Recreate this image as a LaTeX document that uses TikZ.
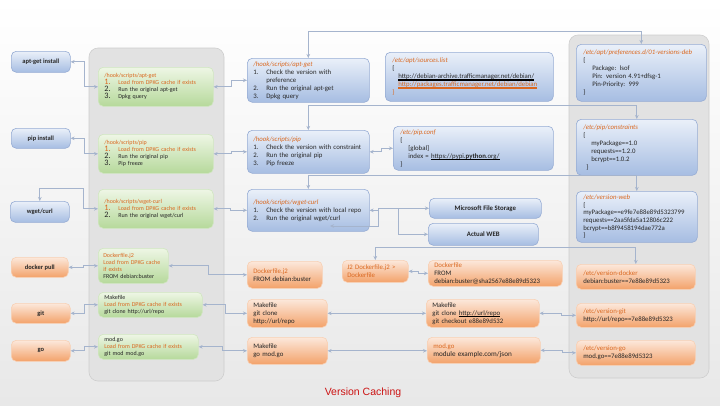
\documentclass[tikz,border=0pt]{standalone}
\usepackage{fontspec}
\setmainfont{Carlito}
\newfontfamily\titlefont{Liberation Sans}
\usetikzlibrary{arrows.meta,calc}
\definecolor{org}{RGB}{218,104,32}
\definecolor{conncol}{RGB}{165,180,205}
\definecolor{bluetop}{RGB}{234,240,249}
\definecolor{bluebot}{RGB}{166,189,226}
\definecolor{blueedge}{RGB}{150,172,212}
\definecolor{greentop}{RGB}{238,246,229}
\definecolor{greenbot}{RGB}{182,217,155}
\definecolor{greenedge}{RGB}{208,230,192}
\definecolor{orangetop}{RGB}{252,232,219}
\definecolor{orangebot}{RGB}{243,162,106}
\definecolor{orangeedge}{RGB}{248,208,180}
\definecolor{panelfill}{RGB}{226,226,226}
\definecolor{paneledge}{RGB}{206,206,206}
\definecolor{titlered}{RGB}{204,20,20}
\newcommand\thickul[2][black]{\setbox0\hbox{#2}\rlap{\raisebox{-1.8pt}{\color{#1}\rule{\wd0}{1.2pt}}}\box0}
\newcommand\num[1]{\makebox[14pt][l]{\fontsize{8.3}{7}\selectfont #1}}
\newcommand\numb[1]{\makebox[13pt][l]{#1}}
\tikzset{
  bx/.style={anchor=north west, rounded corners=5pt, inner xsep=6pt, inner ysep=1pt,
    align=left, font=\fontsize{6.8}{8}\selectfont, text=black!85, line width=0.6pt},
  bluebox/.style={bx, draw=blueedge, top color=bluetop, bottom color=bluebot},
  greenbox/.style={bx, draw=greenedge, top color=greentop, bottom color=greenbot, font=\fontsize{6}{7}\selectfont},
  orangebox/.style={bx, draw=orangeedge, top color=orangetop, bottom color=orangebot},
  cmd/.style={align=center, font=\bfseries\fontsize{6.5}{8}\selectfont},
  panel/.style={draw=paneledge, fill=panelfill, rounded corners=9pt, line width=0.6pt},
  conn/.style={draw=conncol, line width=0.9pt, >={Stealth[length=4pt,width=3.6pt]}, <->},
}
\begin{document}
\begin{tikzpicture}[x=1pt, y=-1pt]
\useasboundingbox (0,0) rectangle (720,405);
\fill[top color=white, bottom color={rgb,255:red,232;green,232;blue,232}] (0,0) rectangle (720,405);
% panels
\path[panel] (89,48) rectangle (224,381);
\path[panel] (569,35) rectangle (709,378);
% commands
\node[bluebox, cmd, minimum width=59pt, minimum height=21pt] (aptinst) at (11,51) {apt-get install};
\node[bluebox, cmd, minimum width=59pt, minimum height=20pt] (pipinst) at (11,128) {pip install};
\node[bluebox, cmd, minimum width=59pt, minimum height=21pt] (wgetc) at (10,201) {wget/curl};
\node[orangebox, cmd, minimum width=57pt, minimum height=20pt] (dockc) at (11,257) {docker pull};
\node[orangebox, cmd, minimum width=59pt, minimum height=20pt] (gitc) at (11,303) {git};
\node[orangebox, cmd, minimum width=59pt, minimum height=21pt] (goc) at (11,340) {go};
% green hooks
\node[greenbox, minimum width=115pt, minimum height=39pt, text width=103pt] (aptg) at (98,67)
 {{\color{org}/hook/scripts/apt-get}\\
  {\color{org}\num{1.}Load from DPKG cache if exists}\\
  \num{2.}Run the original apt-get\\
  \num{3.}Dpkg query};
\node[greenbox, minimum width=115pt, minimum height=39pt, text width=103pt] (pipg) at (98,134)
 {{\color{org}/hook/scripts/pip}\\
  {\color{org}\num{1.}Load from DPKG cache if exists}\\
  \num{2.}Run the original pip\\
  \num{3.}Pip freeze};
\node[greenbox, minimum width=115pt, minimum height=39pt, text width=103pt] (wgetg) at (98,189)
 {{\color{org}/hook/scripts/wget-curl}\\
  {\color{org}\num{1.}Load from DPKG cache if exists}\\
  \num{2.}Run the original wget/curl};
\node[greenbox, minimum width=70pt, minimum height=35pt, text width=60pt, inner xsep=5pt] (dockg) at (98,248)
 {{\color{org}Dockerfile.j2}\\
  {\color{org}Load from DPKG cache}\\
  {\color{org}if exists}\\
  FROM debian:buster};
\node[greenbox, minimum width=104pt, minimum height=25pt, text width=92pt] (makeg) at (98,292)
 {Makefile\\
  {\color{org}Load from DPKG cache if exists}\\
  git clone http://url/repo};
\node[greenbox, minimum width=100pt, minimum height=25pt, text width=88pt] (modg) at (98,334)
 {mod.go\\
  {\color{org}Load from DPKG cache if exists}\\
  git mod mod.go};
% middle blue
\node[bluebox, minimum width=122pt, minimum height=44pt, text width=110pt, inner xsep=6pt] (apth) at (247,58)
 {{\color{org}\itshape /hook/scripts/apt-get}\\
  \numb{1.}Check the version with\\
  \hspace*{13pt}preference\\
  \numb{2.}Run the original apt-get\\
  \numb{3.}Dpkg query};
\node[bluebox, minimum width=168pt, minimum height=49pt, text width=154pt, inner xsep=7pt] (srcs) at (385,52)
 {{\color{org}\itshape /etc/apt/sources.list}\\
  \{\\
  \hspace*{6pt}\thickul{http://debian-archive.trafficmanager.net/debian/}\\
  \hspace*{6pt}\thickul[org]{\color{org}http://packages.trafficmanager.net/debian/debian}\\
  \}};
\node[bluebox, minimum width=122pt, minimum height=43pt, text width=110pt, inner xsep=6pt] (piph) at (247,130)
 {{\color{org}\itshape /hook/scripts/pip}\\
  \numb{1.}Check the version with constraint\\
  \numb{2.}Run the original pip\\
  \numb{3.}Pip freeze};
\node[bluebox, minimum width=160pt, minimum height=44pt, text width=146pt, inner xsep=7pt] (pipconf) at (393,126)
 {{\color{org}\itshape /etc/pip.conf}\\
  \{\\
  \hspace*{8pt}[global]\\
  \hspace*{8pt}index = \thickul{https://pypi.\textbf{python}.org/}\\
  \}};
\node[bluebox, minimum width=122pt, minimum height=42pt, text width=110pt, inner xsep=6pt] (wgeth) at (247,189)
 {{\color{org}\itshape /hook/scripts/wget-curl}\\
  \numb{1.}Check the version with local repo\\
  \numb{2.}Run the original wget/curl};
\node[bluebox, cmd, minimum width=112pt, minimum height=20pt, font=\bfseries\fontsize{6.8}{8}\selectfont] (mfs) at (429,198) {Microsoft File Storage};
\node[bluebox, cmd, minimum width=110pt, minimum height=22pt, font=\bfseries\fontsize{6.8}{8}\selectfont] (web) at (428,223) {Actual WEB};
% middle orange
\node[orangebox, minimum width=75pt, minimum height=27pt, text width=63pt] (dockm) at (247,261)
 {{\color{org}Dockerfile.j2}\\FROM debian:buster};
\node[orangebox, minimum width=66pt, minimum height=22pt, text width=56pt, inner xsep=5pt] (j2) at (342,260)
 {{\color{org}J2 Dockerfile.j2 >}\\{\color{org}Dockerfile}};
\node[orangebox, minimum width=134pt, minimum height=26pt, text width=122pt] (dockf) at (428,260)
 {{\color{org}Dockerfile}\\FROM\\debian:buster@sha2567e88e89d5323};
\node[orangebox, minimum width=80pt, minimum height=28pt, text width=68pt] (makem) at (247,299)
 {Makefile\\git clone\\http://url/repo};
\node[orangebox, minimum width=113pt, minimum height=28pt, text width=101pt] (maker) at (426,299)
 {Makefile\\git clone \thickul{http://url/repo}\\git checkout e88e89d532};
\node[orangebox, minimum width=80pt, minimum height=27pt, text width=68pt] (gom) at (247,337)
 {Makefile\\go mod.go};
\node[orangebox, minimum width=113pt, minimum height=26pt, text width=101pt] (modr) at (427,337)
 {{\color{org}mod.go}\\{\fontsize{7.2}{9}\selectfont module example.com/json}};
% right panel
\node[bluebox, minimum width=130pt, minimum height=57pt, text width=116pt, inner xsep=7pt] (prefs) at (576,44)
 {{\color{org}\itshape /etc/apt/preferences.d/01-versions-deb}\\
  \{\\
  \hspace*{9pt}Package: lsof\\
  \hspace*{9pt}Pin: version 4.91+dfsg-1\\
  \hspace*{9pt}Pin-Priority: 999\\
  \}};
\node[bluebox, minimum width=121pt, minimum height=56pt, text width=107pt, inner xsep=7pt] (cons) at (576,119)
 {{\color{org}\itshape /etc/pip/constraints}\\
  \{\\
  \hspace*{8pt}myPackage==1.0\\
  \hspace*{8pt}requests==1.2.0\\
  \hspace*{8pt}bcrypt==1.0.2\\
  \hspace*{3pt}\}};
\node[bluebox, minimum width=121pt, minimum height=51pt, text width=107pt, inner xsep=7pt, font=\fontsize{6.8}{7.6}\selectfont] (vweb) at (576,191)
 {{\color{org}\itshape /etc/version-web}\\
  \{\\
  myPackage==e9fe7e88e89d5323799\\
  requests==2aa5fda5a12806c222\\
  bcrypt==b8f9458194dae772a\\
  \}};
\node[orangebox, minimum width=119pt, minimum height=25pt, text width=105pt, inner xsep=7pt] (vdock) at (576,264)
 {{\color{org}/etc/version-docker}\\debian:buster==7e88e89d5323};
\node[orangebox, minimum width=119pt, minimum height=24pt, text width=105pt, inner xsep=7pt] (vgit) at (576,303)
 {{\color{org}/etc/version-git}\\http://url/repo==7e88e89d5323};
\node[orangebox, minimum width=119pt, minimum height=25pt, text width=105pt, inner xsep=7pt] (vgo) at (576,340)
 {{\color{org}/etc/version-go}\\mod.go==7e88e89d5323};
% title
\node[font=\titlefont\fontsize{10.5}{12}\selectfont, text=titlered] (title) at (363,393) {Version Caching};
% connectors
\draw[conn] (aptinst.east) -- ++(14,0) |- (aptg.west);
\draw[conn] (aptg.east) -- ++(18,0) |- (apth.west);
\draw[conn] (apth.north) -- ++(0,-27) -| (prefs.north);
\draw[conn] (pipinst.east) -- ++(14,0) |- (pipg.west);
\draw[conn] (pipg.east) -- ++(18,0) |- (piph.west);
\draw[conn] (piph.east) -- ++(12,0) |- (pipconf.west);
\draw[conn] (piph.north) -- ++(0,-25) -| (cons.north);
\draw[conn] (wgetc.north) -- ++(0,-13) -| ($(wgetg.west)+(-15,0)$) -- (wgetg.west);
\draw[conn] (wgetg.east) -- ++(17,0) |- (wgeth.west);
\draw[conn] (wgeth.north) -- ++(0,-14) -| (vweb.north);
\draw[conn] (wgeth.east) -- ++(9,0) |- (mfs.west);
\coordinate (split) at ($(mfs.west)+(-31,0)$);
\draw[conn,->] (split) |- (web.west);
\coordinate (ret) at (330,226);
\draw[conn,->] ($(mfs.west)+(-51,0)$) |- (ret);
\draw[conn] (j2.north) -- ++(0,-13) -| (vdock.north);
\draw[conn] (dockc.east) -- ++(15,0) |- (dockg.west);
\draw[conn] (dockg.east) -- ++(40,0) |- (dockm.west);
\draw[conn] (j2.east) -- ++(10,0) |- (dockf.west);
\draw[conn] (gitc.east) -- ++(14,0) |- (makeg.west);
\draw[conn] (makeg.east) -- ++(23,0) |- (makem.west);
\draw[conn] (makem.east) -- (makem.east -| maker.west);
\draw[conn] (maker.east) -- ++(22,0) |- (vgit.west);
\draw[conn] (goc.east) -- ++(14,0) |- (modg.west);
\draw[conn] (modg.east) -- ++(24,0) |- (gom.west);
\draw[conn] (gom.east) -- (gom.east -| modr.west);
\draw[conn] (modr.east) -- ++(22,0) |- (vgo.west);
\end{tikzpicture}
\end{document}
